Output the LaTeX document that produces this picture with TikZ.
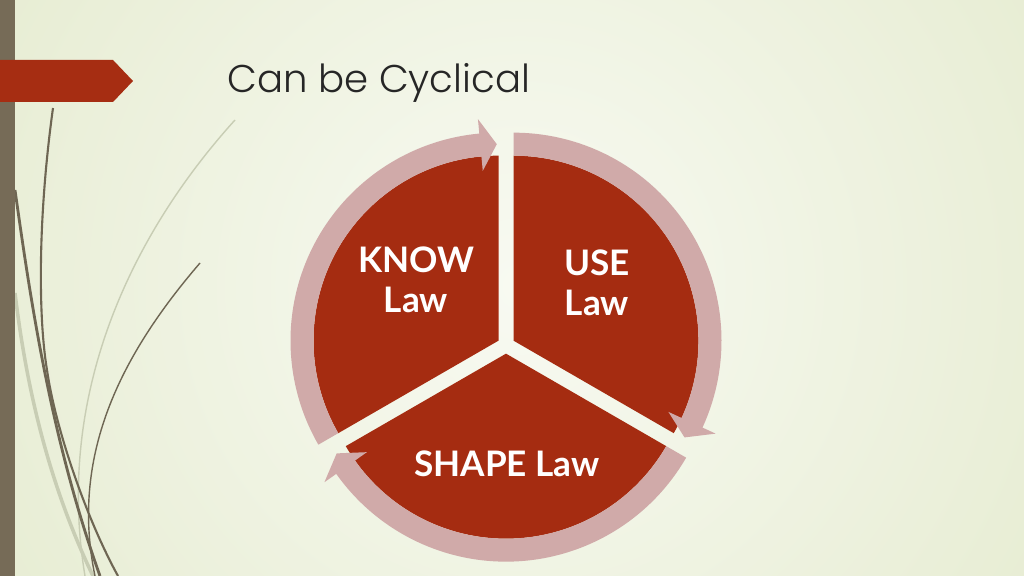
\documentclass[tikz,border=0pt]{standalone}
\usepackage{fontspec}
\newfontfamily\titlefont{Poppins}[UprightFont={* Light}]
\newfontfamily\lawfont{Lato}

\definecolor{bglight}{HTML}{F8FAF2}
\definecolor{bgdark}{HTML}{DCE4BF}
\definecolor{barbrown}{HTML}{766B57}
\definecolor{tagred}{HTML}{A62D12}
\definecolor{piered}{HTML}{A52C11}
\definecolor{ringpink}{HTML}{D0AAA9}
\definecolor{titlegray}{HTML}{262626}
\definecolor{grassdark}{HTML}{6E6653}
\definecolor{grasslight}{HTML}{C8CDB4}

\tikzset{
  lawtext/.style={text=white, font=\lawfont\bfseries\fontsize{25}{28.5}\selectfont, align=center},
  piece/.style={fill=piered},
  ring/.style={fill=ringpink},
  grass/.style={draw=grassdark, line width=1pt},
  thickgrass/.style={draw=grassdark, line width=2pt},
  palegrass/.style={draw=grasslight, line width=1pt},
}

\begin{document}
\begin{tikzpicture}[x=0.025cm,y=0.025cm]
\def\cx{506}
\def\cy{231}
\def\gapx{7.5}
\def\gapy{4.33}
\def\pie{185}
\def\ringout{208}
\def\ringin{185}
\def\ringmid{196.5}
\def\head{26}

% Background
\useasboundingbox (0,0) rectangle (1024,576);
\begin{scope}
\clip (0,0) rectangle (1024,576);
\shade[inner color=bglight, outer color=bgdark] (520,290) circle (1000);
\end{scope}

% Grass
\draw[palegrass, line width=2.5pt] (15,283) .. controls (25,200) and (45,100) .. (93,0);
\draw[palegrass] (235,456) .. controls (130,340) and (55,180) .. (85,0);
\draw[grass] (200,313) .. controls (120,220) and (70,120) .. (95,0);
\draw[grass, line width=1.5pt] (53,468) .. controls (38,360) and (38,260) .. (47,206) .. controls (55,150) and (85,60) .. (118,0);
\draw[thickgrass] (15,386) .. controls (30,280) and (50,140) .. (100,0);

% Side bar and title tag
\fill[barbrown] (0,0) rectangle (15,576);
\fill[tagred] (0,516) -- (113,516) -- (133,495) -- (113,474) -- (0,474) -- cycle;
\node[anchor=base west, inner sep=0pt, text=titlegray, font=\titlefont\fontsize{27.5}{33}\selectfont] (title) at (227,483) {Can be Cyclical};

% KNOW segment
\begin{scope}[shift={(\cx-\gapx,\cy+\gapy)}]
  \fill[piece] (0,0) -- (90:\pie) arc[start angle=90, end angle=210, radius=\pie] -- cycle;
  \fill[ring] (210:\ringin) -- (210:\ringout) arc[start angle=210, end angle=95.3, radius=\ringout]
    -- ({95.3}:{\ringmid+\head}) -- ({90.5}:{\ringmid}) -- ({95.3}:{\ringmid-\head}) -- (95.3:\ringin)
    arc[start angle=95.3, end angle=210, radius=\ringin] -- cycle;
\end{scope}

% USE segment
\begin{scope}[shift={(\cx+\gapx,\cy+\gapy)}]
  \fill[piece] (0,0) -- (-30:\pie) arc[start angle=-30, end angle=90, radius=\pie] -- cycle;
  \fill[ring] (90:\ringin) -- (90:\ringout) arc[start angle=90, end angle=-24.7, radius=\ringout]
    -- ({-24.7}:{\ringmid+\head}) -- ({-29.5}:{\ringmid}) -- ({-24.7}:{\ringmid-\head}) -- (-24.7:\ringin)
    arc[start angle=-24.7, end angle=90, radius=\ringin] -- cycle;
\end{scope}

% SHAPE segment
\begin{scope}[shift={(\cx,\cy-8.66)}]
  \fill[piece] (0,0) -- (210:\pie) arc[start angle=210, end angle=330, radius=\pie] -- cycle;
  \fill[ring] (330:\ringin) -- (330:\ringout) arc[start angle=330, end angle=215.3, radius=\ringout]
    -- ({215.3}:{\ringmid+\head}) -- ({210.5}:{\ringmid}) -- ({215.3}:{\ringmid-\head}) -- (215.3:\ringin)
    arc[start angle=215.3, end angle=330, radius=\ringin] -- cycle;
\end{scope}

% Labels
\node[lawtext] (know) at (416,296) {KNOW\\Law};
\node[lawtext] (use) at (597,293) {USE\\Law};
\node[lawtext] (shape) at (507,112) {SHAPE Law};

\end{tikzpicture}
\end{document}
